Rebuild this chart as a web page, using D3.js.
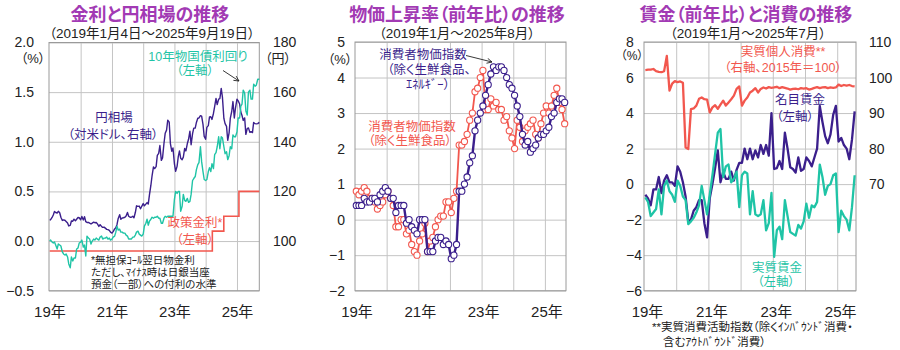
<!DOCTYPE html>
<html><head><meta charset="utf-8">
<script src="https://cdn.jsdelivr.net/npm/d3@7/dist/d3.min.js"></script>
<style>
body{margin:0;background:#fff;}
svg{font-family:'Liberation Sans','Noto Sans CJK JP',sans-serif;font-feature-settings:"palt";}
</style></head><body>
<svg id="c" width="900" height="350"></svg>
<script>
// ---------------- DATA ----------------
// Panel 1: semi-monthly samples (1st & 15th), 2019-01-04 .. 2025-09-19
const fxYen = [
108.5,108.6,109.5,110.5,111.9,111.5,111.3,112.0,111.4,109.6,108.3,108.5,108.4,107.9,107.3,106.1,106.3,108.1,108.0,108.8,108.2,108.8,109.5,109.4,
108.6,109.9,108.5,109.8,107.8,107.5,107.5,107.2,106.9,107.2,107.6,107.4,107.5,106.9,105.9,106.6,105.9,105.5,105.6,105.2,104.7,104.6,104.3,103.6,
103.2,103.8,104.9,105.4,106.7,109.1,110.6,108.8,109.3,109.4,109.6,110.1,111.5,110.0,109.6,109.6,110.0,109.4,111.5,114.2,114.0,114.1,113.0,114.0,
115.1,114.2,114.9,115.5,114.9,118.6,122.5,126.4,129.9,129.2,130.0,134.5,135.3,138.5,132.5,133.5,139.4,143.4,144.7,148.7,147.9,139.3,136.2,137.5,
131.1,128.1,130.1,134.0,136.3,133.4,132.8,133.8,137.3,136.3,139.3,141.0,144.3,138.8,143.3,145.5,145.5,147.8,149.5,149.6,150.5,150.3,147.0,142.2,
141.0,145.8,146.5,150.0,150.1,149.0,151.4,154.2,157.5,155.0,157.2,157.4,161.5,158.0,149.4,147.3,146.2,140.6,143.6,149.4,152.3,156.2,149.6,153.7,
157.2,156.5,155.2,152.0,150.6,148.6,149.6,143.0,145.3,145.6,143.8,144.1,143.7,147.8,147.3,147.2,147.3,147.8];
const jgb10y = [
0.00,0.01,-0.01,-0.02,-0.01,-0.04,-0.08,-0.03,-0.04,-0.05,-0.11,-0.13,-0.14,-0.13,-0.16,-0.23,-0.27,-0.16,-0.20,-0.17,-0.17,-0.08,-0.07,-0.02,
-0.01,0.01,-0.06,-0.04,-0.15,0.05,0.03,0.02,-0.03,0.00,0.02,0.01,0.03,0.02,0.01,0.04,0.05,0.02,0.03,0.03,0.04,0.02,0.03,0.01,
0.02,0.04,0.05,0.09,0.15,0.11,0.12,0.09,0.09,0.08,0.08,0.06,0.05,0.02,0.02,0.02,0.04,0.04,0.06,0.09,0.10,0.07,0.06,0.05,
0.07,0.15,0.18,0.22,0.16,0.20,0.22,0.24,0.23,0.24,0.24,0.25,0.23,0.23,0.18,0.18,0.23,0.25,0.24,0.25,0.25,0.25,0.25,0.25,
0.42,0.50,0.48,0.50,0.50,0.30,0.35,0.47,0.41,0.40,0.43,0.39,0.40,0.47,0.61,0.63,0.65,0.72,0.77,0.79,0.95,0.80,0.70,0.62,
0.61,0.62,0.70,0.74,0.70,0.78,0.73,0.87,0.89,0.95,1.05,0.93,1.05,1.04,0.95,0.88,0.90,0.82,0.86,0.95,0.93,1.07,1.05,1.05,
1.10,1.24,1.24,1.36,1.38,1.52,1.49,1.31,1.27,1.50,1.52,1.43,1.43,1.58,1.56,1.57,1.63,1.63];
const policyDates = ["2019-01-04","2024-03-19","2024-07-31","2025-01-24","2025-09-19"];
const policyRate  = [-0.1, 0.1, 0.25, 0.5, 0.5];
const p1LeftTicks  = [-0.5, 0.0, 0.5, 1.0, 1.5, 2.0];
const p1RightTicks = [100, 120, 140, 160, 180];

// Panel 2: monthly 2019-01 .. 2025-08 (y/y %)
const cpiCore = [
0.8,0.7,0.8,0.9,0.8,0.6,0.6,0.5,0.3,0.4,0.5,0.7,
0.8,0.6,0.4,-0.2,-0.2,0.0,0.0,-0.4,-0.3,-0.7,-0.9,-1.0,
-0.6,-0.4,-0.1,-0.9,-0.6,-0.5,-0.2,0.0,0.1,0.1,0.5,0.5,
0.2,0.6,0.8,2.1,2.1,2.2,2.4,2.8,3.0,3.6,3.7,4.0,
4.2,3.1,3.1,3.4,3.2,3.3,3.1,3.1,2.8,2.9,2.5,2.3,
2.0,2.8,2.6,2.2,2.5,2.6,2.7,2.8,2.4,2.3,2.7,3.0,
3.2,3.0,3.2,3.5,3.7,3.3,3.1,2.7];
const cpiCoreCore = [
0.4,0.4,0.4,0.6,0.5,0.5,0.6,0.6,0.5,0.7,0.8,0.9,
0.8,0.6,0.6,0.2,0.4,0.4,0.4,-0.1,0.0,-0.2,-0.3,-0.4,
0.0,0.0,0.0,-0.9,-0.9,-0.9,-0.6,-0.5,-0.5,-0.7,-0.6,-0.7,
-1.1,-1.0,-0.7,0.8,0.8,1.0,1.2,1.6,1.8,2.5,2.8,3.0,
3.2,3.5,3.8,4.1,4.3,4.2,4.3,4.3,4.2,4.0,3.8,3.7,
3.5,3.2,2.9,2.4,2.1,2.2,1.9,2.0,2.1,2.3,2.4,2.4,
2.5,2.6,2.9,3.0,3.3,3.4,3.4,3.3];
const p2Ticks = [-2,-1,0,1,2,3,4,5];

// Panel 3: monthly 2019-01 .. 2025-07
const nominalWage = [
-0.6,-0.8,-1.2,-0.3,-0.3,0.4,-0.5,0.2,0.5,0.1,0.1,-0.1,
1.0,0.7,0.1,-0.7,-2.1,-2.0,-1.5,-1.3,-0.9,-0.9,-2.2,-3.0,
-0.8,0.0,0.9,1.9,0.1,0.7,0.3,0.3,0.7,0.2,0.8,1.2,
1.2,2.0,1.4,2.0,1.4,1.9,1.5,2.2,1.7,2.2,1.6,4.0,
0.85,0.9,1.3,0.85,2.9,2.0,0.95,0.85,0.65,1.5,0.75,0.85,
1.5,1.3,1.0,1.5,2.0,4.4,3.5,2.7,2.3,2.8,3.9,4.4,
2.4,2.6,2.2,2.0,1.4,2.5,4.1];
const realWage = [
-0.75,-1.0,-1.8,-1.6,-1.4,-0.3,-1.7,-0.1,0.2,-0.4,-0.6,-1.0,
0.2,-0.1,-0.7,-0.9,-2.25,-2.1,-1.9,-1.6,-1.2,-0.1,-0.9,-1.7,
-0.6,0.5,1.7,2.9,3.1,0.4,1.0,1.1,0.1,0.3,0.7,-1.3,
0.5,0.7,0.6,-1.7,-0.4,-1.7,-1.8,-1.7,-0.9,-2.6,-2.2,-0.5,
-4.1,-2.6,-2.4,-3.1,-0.9,-1.8,-2.7,-2.8,-2.9,-2.3,-2.5,-2.1,
-1.1,-1.9,-1.2,-1.3,-1.0,1.1,0.4,-0.6,-0.1,0.0,0.5,0.6,
-2.7,-1.5,-1.8,-2.0,-2.6,-1.3,0.5];
const realConsumption = [
102.1,102.2,102.2,102.4,101.8,101.6,101.5,101.8,106.1,96.3,98.3,99.0,
98.7,98.9,98.5,80.3,79.9,91.1,91.3,92.1,94.0,94.4,93.9,93.8,
90.2,91.6,92.2,91.2,92.4,93.5,92.1,93.0,93.9,94.9,96.8,97.5,
92.1,93.5,94.4,95.8,96.3,97.0,95.8,96.8,97.2,96.9,97.3,97.1,
97.2,97.4,97.0,97.3,97.1,96.9,96.6,96.8,96.9,96.7,97.0,96.9,
97.0,96.6,96.8,97.1,97.3,97.0,97.2,97.3,97.0,97.2,97.1,97.2,
98.0,97.6,97.9,97.7,97.9,97.6,97.5];
const p3LeftTicks = [-6,-4,-2,0,2,4,6,8];
const p3RightTicks = [70,80,90,100,110];

const xYearLabels = ["19年","21年","23年","25年"];
const xLabelYears = [2019, 2021, 2023, 2025];
const gridYears = [2020, 2021, 2022, 2023, 2024, 2025];

// ---------------- STYLE ----------------
const TEAL="#1fc4a6", PURPLE="#3b1f8c", RED="#f2574e", TITLE="#a23ab4";
const GRID="#c4c4c4", BORDER="#9a9a9a", TXT="#222";
const svg = d3.select("#c");

svg.append("defs").append("marker").attr("id","arr").attr("viewBox","0 0 10 10")
  .attr("refX",9).attr("refY",5).attr("markerWidth",7).attr("markerHeight",7).attr("orient","auto")
  .append("path").attr("d","M1,1 L9,5 L1,9").attr("fill","none").attr("stroke","#222").attr("stroke-width",1.3);

function txt(x,y,s,color,size,anchor="middle",weight="normal"){
  return svg.append("text").attr("x",x).attr("y",y).attr("dy","0.35em").attr("text-anchor",anchor)
    .attr("fill",color).attr("font-size",size).attr("font-weight",weight).text(s);
}
function styleAxis(g,size){
  g.attr("font-family",null).attr("font-size",size);
  g.select(".domain").remove();
  g.selectAll("text").attr("fill",TXT);
}
function frame(b, xs, xGrid, ys, yGrid){
  const g = svg.append("g");
  g.append("g").attr("transform",`translate(${b.x0},0)`)
    .call(d3.axisLeft(ys).tickValues(yGrid).tickSize(-(b.x1-b.x0)).tickFormat(""))
    .call(a=>{a.select(".domain").remove();a.selectAll("line").attr("stroke",GRID);});
  g.append("g").attr("transform",`translate(0,${b.y1})`)
    .call(d3.axisBottom(xs).tickValues(xGrid).tickSize(-(b.y1-b.y0)).tickFormat(""))
    .call(a=>{a.select(".domain").remove();a.selectAll("line").attr("stroke",GRID);});
  g.append("rect").attr("x",b.x0).attr("y",b.y0).attr("width",b.x1-b.x0).attr("height",b.y1-b.y0)
    .attr("fill","none").attr("stroke",BORDER).attr("stroke-width",1);
}

// ================= PANEL 1 =================
const b1 = {x0:49, x1:259.3, y0:42.5, y1:290.7};
const p1Dates = d3.timeMonth.range(new Date(2019,0,1), new Date(2025,9,1))
  .flatMap(m=>[m, new Date(m.getFullYear(), m.getMonth(), 15)]);
p1Dates[0] = new Date(2019,0,4);
p1Dates[p1Dates.length-1] = new Date(2025,8,19);
const parse = d3.timeParse("%Y-%m-%d");
const x1 = d3.scaleTime().domain([new Date(2018,11,27), new Date(2025,8,19)]).range([b1.x0,b1.x1]);
const yL1 = d3.scaleLinear().domain([-0.5,2.0]).range([b1.y1,b1.y0]);
const yR1 = d3.scaleLinear().domain([80,180]).range([b1.y1,b1.y0]);
frame(b1, x1, gridYears.map(y=>new Date(y,0,1)), yL1, p1LeftTicks);

svg.append("path").datum(policyRate)
  .attr("d", d3.line().curve(d3.curveStepAfter).x((d,i)=>x1(parse(policyDates[i]))).y(d=>yL1(d)))
  .attr("fill","none").attr("stroke",RED).attr("stroke-width",1.6);
svg.append("path").datum(fxYen)
  .attr("d", d3.line().x((d,i)=>x1(p1Dates[i])).y(d=>yR1(d)))
  .attr("fill","none").attr("stroke",PURPLE).attr("stroke-width",1.4).attr("stroke-linejoin","round");
svg.append("path").datum(jgb10y)
  .attr("d", d3.line().x((d,i)=>x1(p1Dates[i])).y(d=>yL1(d)))
  .attr("fill","none").attr("stroke",TEAL).attr("stroke-width",1.4).attr("stroke-linejoin","round");

svg.append("g").attr("transform","translate(34,0)")
  .call(d3.axisLeft(yL1).tickValues(p1LeftTicks).tickFormat(d3.format(".1f")).tickSize(0).tickPadding(0))
  .call(g=>styleAxis(g,14));
svg.append("g").attr("transform","translate(273,0)")
  .call(d3.axisRight(yR1).tickValues(p1RightTicks).tickSize(0).tickPadding(0))
  .call(g=>styleAxis(g,14));
svg.append("g").attr("transform","translate(0,306)")
  .call(d3.axisBottom(x1).tickValues(xLabelYears.map(y=>new Date(y,0,1))).tickFormat((d,i)=>xYearLabels[i]).tickSize(0).tickPadding(0))
  .call(g=>styleAxis(g,15));

txt(150,15,"金利と円相場の推移",TITLE,18,"middle","bold");
txt(152,33,"（2019年1月4日～2025年9月19日）",TXT,13.5);
txt(33,58,"（%）",TXT,13);
txt(278,58,"（円）",TXT,13);
txt(198,57,"10年物国債利回り",TEAL,12.5);
txt(195,71,"（左軸）",TEAL,12.5);
svg.append("line").attr("x1",223).attr("y1",70.5).attr("x2",239).attr("y2",81)
  .attr("stroke","#222").attr("stroke-width",0.9).attr("marker-end","url(#arr)");
txt(114,118,"円相場",PURPLE,12.5);
txt(113,135,"（対米ドル、右軸）",PURPLE,12.5);
txt(195,223,"政策金利*",RED,12.5);
txt(195,240,"（左軸）",RED,12.5);
txt(91,260,"*無担保ｺｰﾙ翌日物金利",TXT,10.5,"start");
txt(91,272,"ただし､ﾏｲﾅｽ時は日銀当座",TXT,10.5,"start");
txt(91,284,"預金（一部）への付利の水準",TXT,10.5,"start");

// ================= PANEL 2 =================
const b2 = {x0:355, x1:566, y0:42, y1:290.7};
const x2 = d3.scaleLinear().domain([-0.5, cpiCore.length-0.5]).range([b2.x0,b2.x1]);
const y2 = d3.scaleLinear().domain([-2,5]).range([b2.y1,b2.y0]);
const yrIdx = y=>(y-2019)*12-0.5;
frame(b2, x2, gridYears.map(yrIdx), y2, p2Ticks);

function markerSeries(vals,color,lw){
  svg.append("path").datum(vals).attr("d",d3.line().x((d,i)=>x2(i)).y(d=>y2(d)))
    .attr("fill","none").attr("stroke",color).attr("stroke-width",lw).attr("stroke-linejoin","round");
  svg.append("g").selectAll("circle").data(vals).join("circle")
    .attr("cx",(d,i)=>x2(i)).attr("cy",d=>y2(d)).attr("r",3.1)
    .attr("fill","#fff").attr("stroke",color).attr("stroke-width",1.1);
}
markerSeries(cpiCore,RED,1.8);
markerSeries(cpiCoreCore,PURPLE,2.4);

svg.append("g").attr("transform","translate(345,0)")
  .call(d3.axisLeft(y2).tickValues(p2Ticks).tickFormat(d3.format("d")).tickSize(0).tickPadding(0))
  .call(g=>styleAxis(g,14));
svg.append("g").attr("transform","translate(1.5,306)")
  .call(d3.axisBottom(x2).tickValues(xLabelYears.map(yrIdx)).tickFormat((d,i)=>xYearLabels[i]).tickSize(0).tickPadding(0))
  .call(g=>styleAxis(g,15));

txt(457,15,"物価上昇率（前年比）の推移",TITLE,18,"middle","bold");
txt(457,33,"（2019年1月～2025年8月）",TXT,13.5);
txt(340,59,"（%）",TXT,13);
txt(423,55,"消費者物価指数",PURPLE,12.5);
txt(429,70,"（除く生鮮食品、",PURPLE,12.5);
txt(428,85,"ｴﾈﾙｷﾞｰ）",PURPLE,12.5);
svg.append("line").attr("x1",466).attr("y1",55.5).attr("x2",492).attr("y2",62)
  .attr("stroke","#222").attr("stroke-width",0.9).attr("marker-end","url(#arr)");
txt(412,127,"消費者物価指数",RED,12.5);
txt(410,141,"（除く生鮮食品）",RED,12.5);

// ================= PANEL 3 =================
const b3 = {x0:644, x1:856, y0:42, y1:290.7};
const x3 = d3.scaleLinear().domain([-0.5, nominalWage.length-0.5]).range([b3.x0,b3.x1]);
const yL3 = d3.scaleLinear().domain([-6,8]).range([b3.y1,b3.y0]);
const yR3 = d3.scaleLinear().domain([40,110]).range([b3.y1,b3.y0]);
frame(b3, x3, gridYears.map(yrIdx), yL3, p3LeftTicks);

svg.append("path").datum(realConsumption).attr("d",d3.line().x((d,i)=>x3(i)).y(d=>yR3(d)))
  .attr("fill","none").attr("stroke",RED).attr("stroke-width",2.3).attr("stroke-linejoin","round");
svg.append("path").datum(nominalWage).attr("d",d3.line().x((d,i)=>x3(i)).y(d=>yL3(d)))
  .attr("fill","none").attr("stroke",PURPLE).attr("stroke-width",2.3).attr("stroke-linejoin","round");
svg.append("path").datum(realWage).attr("d",d3.line().x((d,i)=>x3(i)).y(d=>yL3(d)))
  .attr("fill","none").attr("stroke",TEAL).attr("stroke-width",2.3).attr("stroke-linejoin","round");

svg.append("g").attr("transform","translate(626,0)")
  .call(d3.axisLeft(yL3).tickValues(p3LeftTicks).tickFormat(d3.format("d")).tickSize(0).tickPadding(0))
  .call(g=>{styleAxis(g,14);g.selectAll("text").attr("text-anchor","start");});
svg.append("g").attr("transform","translate(869,0)")
  .call(d3.axisRight(yR3).tickValues(p3RightTicks).tickSize(0).tickPadding(0))
  .call(g=>styleAxis(g,14));
svg.append("g").attr("transform","translate(3,306)")
  .call(d3.axisBottom(x3).tickValues(xLabelYears.map(yrIdx)).tickFormat((d,i)=>xYearLabels[i]).tickSize(0).tickPadding(0))
  .call(g=>styleAxis(g,15));

txt(746,15,"賃金（前年比）と消費の推移",TITLE,18,"middle","bold");
txt(748,33,"（2019年1月～2025年7月）",TXT,13.5);
txt(632,55.5,"（%）",TXT,12);
txt(783,52,"実質個人消費**",RED,12.5);
txt(783,68,"（右軸、2015年＝100）",RED,12.5);
txt(800,100,"名目賃金",PURPLE,12.5);
txt(795,117,"（左軸）",PURPLE,12.5);
txt(777,268,"実質賃金",TEAL,12.5);
txt(776,282,"（左軸）",TEAL,12.5);
txt(652,327,"**実質消費活動指数（除くｲﾝﾊﾞｳﾝﾄﾞ消費・",TXT,11.5,"start");
txt(663,342,"含むｱｳﾄﾊﾞｳﾝﾄﾞ消費）",TXT,11.5,"start");
</script></body></html>
